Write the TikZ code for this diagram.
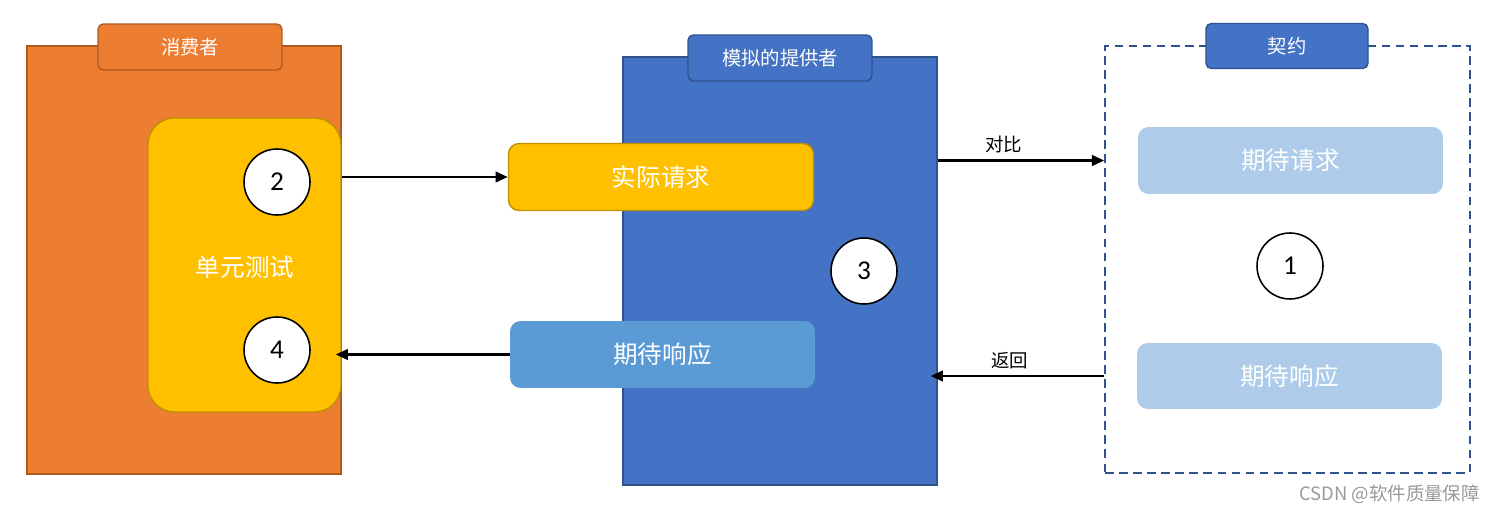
\documentclass[tikz,border=0pt]{standalone}
\usepackage{fontspec}
\setmainfont{Noto Sans CJK SC}
\newfontfamily\numfont{Carlito}
\usepackage{tikz}
\usetikzlibrary{arrows.meta}

\definecolor{orangefill}{HTML}{ED7D31}
\definecolor{orangeline}{HTML}{AE5A21}
\definecolor{goldfill}{HTML}{FFC000}
\definecolor{goldline}{HTML}{BF9000}
\definecolor{bluefill}{HTML}{4472C4}
\definecolor{blueline}{HTML}{2F528F}
\definecolor{midblue}{HTML}{5B9BD5}
\definecolor{paleblue}{HTML}{AECCEA}

\tikzset{
    panel/.style={rectangle, draw=#1, line width=0.8pt, inner sep=0pt,
        minimum width=6.28cm, minimum height=8.56cm},
    tab/.style={rectangle, rounded corners=3pt, draw=#1, line width=0.8pt,
        text=white, font=\fontsize{11}{13}\selectfont,
        minimum width=3.68cm, minimum height=0.92cm, inner sep=0pt},
    msgbox/.style={rectangle, rounded corners=6pt, text=white,
        font=\fontsize{14}{16}\selectfont,
        minimum width=6.1cm, minimum height=1.34cm, inner sep=0pt},
    stepnum/.style={circle, draw=black, fill=white, line width=0.9pt,
        minimum size=1.32cm, inner sep=0pt, font=\numfont\fontsize{15.5}{17}\selectfont},
    flow/.style={-{Triangle[length=7pt, width=6pt]}, line width=1.5pt},
    flowlabel/.style={font=\fontsize{10.5}{12}\selectfont, text=black}
}

\begin{document}
\begin{tikzpicture}[x=0.02cm, y=-0.02cm]
    % canvas, same size as the reference
    \useasboundingbox (0,0) rectangle (1500,513);

    % consumer side
    \node[panel=orangeline, fill=orangefill] (consumer) at (184,260) {};
    \node[tab=orangeline, fill=orangefill] (consumertab) at (190,47) {消费者};
    \node[rectangle, rounded corners=15pt, draw=goldline, fill=goldfill, line width=0.8pt,
        minimum width=3.86cm, minimum height=5.88cm, inner sep=0pt] (unittest) at (244.5,265) {};
    \node[text=white, font=\fontsize{14}{16}\selectfont] (unitlabel) at (245,267) {单元测试};
    \node[stepnum] (two) at (277,182) {2};
    \node[stepnum] (four) at (277,350) {4};

    % mock provider
    \node[panel=blueline, fill=bluefill] (provider) at (780,271) {};
    \node[tab=blueline, fill=bluefill] (providertab) at (780,58) {模拟的提供者};
    \node[msgbox, draw=goldline, fill=goldfill, line width=0.8pt] (actualreq) at (661,177) {实际请求};
    \node[msgbox, fill=midblue] (stubresp) at (662.5,354.5) {期待响应};
    \node[stepnum] (three) at (864,271) {3};

    % contract
    \node[rectangle, draw=blueline, dashed, line width=0.9pt, dash pattern=on 5pt off 3pt,
        minimum width=7.3cm, minimum height=8.54cm, inner sep=0pt] (contract) at (1287.5,259.5) {};
    \node[tab=blueline, fill=bluefill, minimum width=3.24cm, minimum height=0.9cm] (contracttab) at (1287,46) {契约};
    \node[msgbox, fill=paleblue] (expreq) at (1290.5,160.5) {期待请求};
    \node[msgbox, fill=paleblue, minimum height=1.32cm] (expresp) at (1289.5,376) {期待响应};
    \node[stepnum] (one) at (1290,266) {1};

    % arrows
    \draw[flow] (actualreq.west -| unittest.east) -- (actualreq.west);
    \draw[flow] (stubresp.west) -- ([xshift=-0.12cm]stubresp.west -| unittest.east);
    \draw[flow] (expreq.west -| provider.east) -- (expreq.west -| contract.west)
        node[flowlabel, midway, above, xshift=-0.35cm] (cmplabel) {对比};
    \draw[flow] (expresp.west -| contract.west) -- ([xshift=-0.14cm]expresp.west -| provider.east)
        node[flowlabel, midway, above, xshift=-0.15cm] (retlabel) {返回};

    % watermark
    \node[text=black!40, font=\fontsize{10.5}{12}\selectfont, anchor=east] (mark) at (1486,494) {CSDN @软件质量保障};
\end{tikzpicture}
\end{document}
